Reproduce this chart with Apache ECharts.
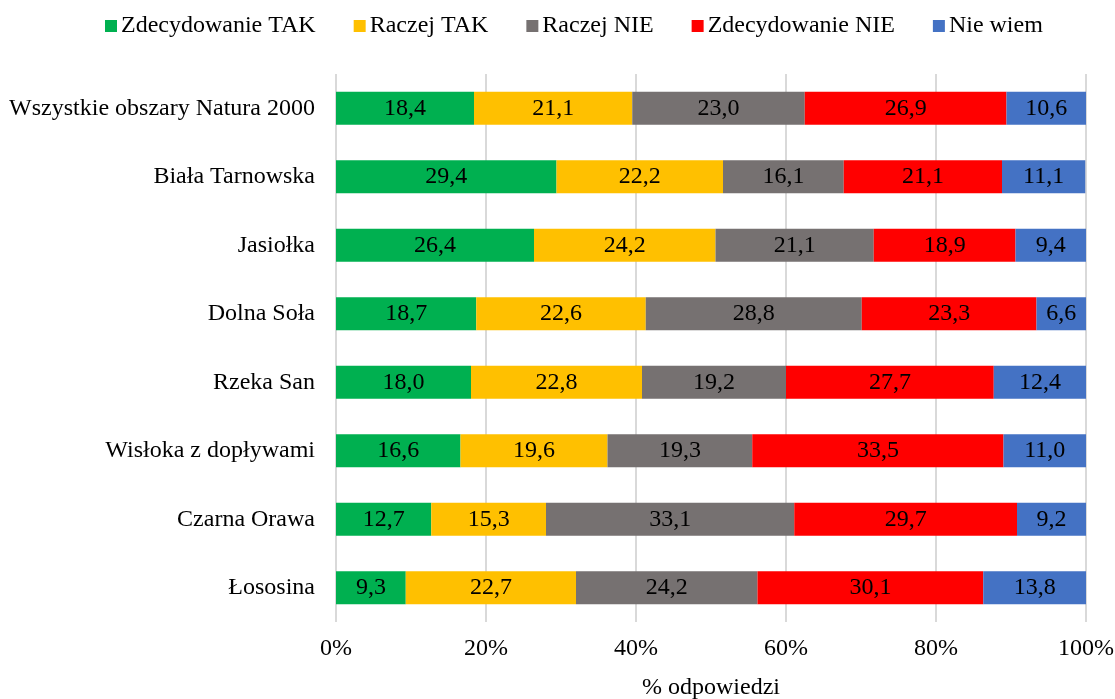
<!DOCTYPE html>
<html>
<head>
<meta charset="utf-8">
<script src="https://cdn.jsdelivr.net/npm/echarts@6/dist/echarts.min.js"></script>
<style>
  html, body { margin: 0; padding: 0; background: #fff; }
  #chart { width: 1115px; height: 699px; }
</style>
</head>
<body>
<div id="chart"></div>
<script>
// Obszary (od góry do dołu)
const categories = [
  'Wszystkie obszary Natura 2000',
  'Biała Tarnowska',
  'Jasiołka',
  'Dolna Soła',
  'Rzeka San',
  'Wisłoka z dopływami',
  'Czarna Orawa',
  'Łososina'
];

const seriesNames = ['Zdecydowanie TAK', 'Raczej TAK', 'Raczej NIE', 'Zdecydowanie NIE', 'Nie wiem'];

const zdecydowanieTak = [18.4, 29.4, 26.4, 18.7, 18.0, 16.6, 12.7, 9.3];
const raczejTak       = [21.1, 22.2, 24.2, 22.6, 22.8, 19.6, 15.3, 22.7];
const raczejNie       = [23.0, 16.1, 21.1, 28.8, 19.2, 19.3, 33.1, 24.2];
const zdecydowanieNie = [26.9, 21.1, 18.9, 23.3, 27.7, 33.5, 29.7, 30.1];
const nieWiem         = [10.6, 11.1, 9.4, 6.6, 12.4, 11.0, 9.2, 13.8];

const xTicks = [0, 20, 40, 60, 80, 100];

const colors = ['#00B050', '#FFC000', '#767171', '#FF0000', '#4472C4'];
const values = [zdecydowanieTak, raczejTak, raczejNie, zdecydowanieNie, nieWiem];

const font = '"Liberation Serif", "Times New Roman", serif';
const fs = 24;

const chart = echarts.init(document.getElementById('chart'), null, { renderer: 'canvas' });

chart.setOption({
  animation: false,
  color: colors,
  textStyle: { fontFamily: font, color: '#000' },
  legend: {
    top: 9,
    left: 100,
    itemWidth: 12,
    itemHeight: 12,
    itemGap: 38,
    icon: 'rect',
    textStyle: { fontFamily: font, fontSize: fs, color: '#000', padding: [0, 0, 0, -1] },
    data: seriesNames
  },
  grid: { left: 336, right: 29, top: 74, bottom: 77, containLabel: false, outerBoundsMode: 'none' },
  xAxis: {
    type: 'value',
    min: xTicks[0],
    max: xTicks[xTicks.length - 1],
    interval: 20,
    name: '% odpowiedzi',
    nameLocation: 'middle',
    nameGap: 54,
    nameTextStyle: { fontFamily: font, fontSize: fs, color: '#000' },
    axisLine: { show: false },
    axisTick: { show: false },
    axisLabel: { fontFamily: font, fontSize: fs, color: '#000', margin: 15, formatter: v => v + '%' },
    splitLine: { show: true, lineStyle: { color: '#D9D9D9', width: 2 } }
  },
  yAxis: {
    type: 'category',
    data: categories,
    inverse: true,
    axisLine: { show: false },
    axisTick: { show: false },
    axisLabel: { fontFamily: font, fontSize: fs, color: '#000', margin: 21 }
  },
  series: seriesNames.map((name, i) => ({
    name,
    type: 'bar',
    stack: 'total',
    barWidth: 33,
    data: values[i],
    itemStyle: { color: colors[i] },
    label: {
      show: true,
      position: 'inside',
      fontFamily: font,
      fontSize: fs,
      color: '#000',
      formatter: p => p.value.toFixed(1).replace('.', ',')
    }
  }))
});
</script>
</body>
</html>
